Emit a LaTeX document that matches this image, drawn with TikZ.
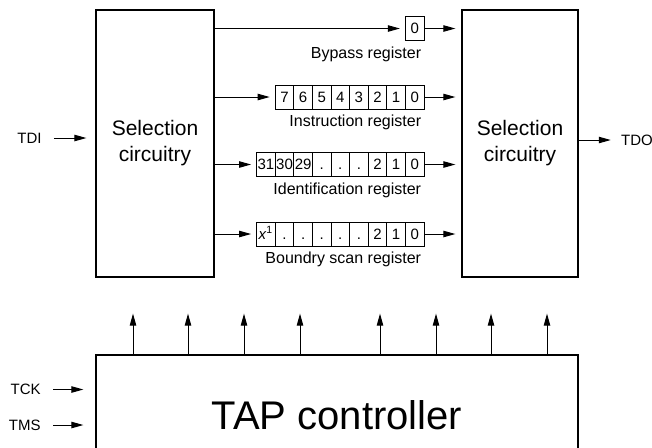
\documentclass[tikz,border=0pt]{standalone}
\usepackage{fontspec}
\setmainfont{Liberation Sans}
\usetikzlibrary{arrows.meta, positioning, calc}

\begin{document}
\begin{tikzpicture}[
    x=0.5pt, y=-0.5pt,
    block/.style={rectangle, draw, line width=0.6pt, inner sep=0pt, align=center, font=\fontsize{10.5}{13}\selectfont},
    cell/.style={rectangle, draw, line width=0.5pt, minimum width=9.3pt, minimum height=12pt, inner sep=0pt, text height=5.4pt, text depth=0pt, font=\fontsize{7.5}{9}\selectfont},
    reglabel/.style={inner sep=0pt, anchor=north east, font=\fontsize{8}{9}\selectfont},
    pin/.style={inner sep=0pt, font=\fontsize{7.5}{9}\selectfont},
    arrow/.style={-{Triangle[length=6pt, width=3.2pt]}, line width=0.5pt}
]
    \clip (0,0) rectangle (652,447);

    % Selection blocks
    \node[block, minimum width=59pt, minimum height=133.5pt] (lsel) at (155,143.5) {Selection\\circuitry};
    \node[block, minimum width=58pt, minimum height=133.5pt] (rsel) at (520,143.5) {Selection\\circuitry};

    % TAP controller (runs past the lower edge)
    \node[block, minimum width=241pt, minimum height=60pt, font=\fontsize{20}{24}\selectfont] (tap) at (337,415) {TAP controller};

    % Registers, cells counted from the right end
    \foreach \v [count=\k from 0] in {0}
        \node[cell] (byp\k) at ({424-18.6*(\k+0.5)},28.5) {\v};
    \foreach \v [count=\k from 0] in {0,1,2,3,4,5,6,7}
        \node[cell] (ins\k) at ({424-18.6*(\k+0.5)},97) {\v};
    \foreach \v [count=\k from 0] in {0,1,2,.,.,.,29,30,31}
        \node[cell] (idc\k) at ({424-18.6*(\k+0.5)},164.5) {\v};
    \foreach \v [count=\k from 0] in {0,1,2,.,.,.,.,.,\textit{x}\textsuperscript{1}}
        \node[cell] (bsc\k) at ({424-18.6*(\k+0.5)},234) {\v};

    % Register names
    \node[reglabel] (bypl) at ([xshift=-1.5pt, yshift=-2.5pt]byp0.south east) {Bypass register};
    \node[reglabel] (insl) at ([xshift=-1.5pt, yshift=-2.5pt]ins0.south east) {Instruction register};
    \node[reglabel] (idcl) at ([xshift=-1.5pt, yshift=-2.5pt]idc0.south east) {Identification register};
    \node[reglabel] (bscl) at ([xshift=-1.5pt, yshift=-2.5pt]bsc0.south east) {Boundry scan register};

    % Paths through the registers
    \foreach \r/\n in {byp/0, ins/7, idc/8, bsc/8} {
        \draw[arrow, shorten >=2.5pt] (lsel.east |- \r\n.west) -- (\r\n.west);
        \draw[arrow, shorten >=3pt] (\r0.east) -- (\r0.east -| rsel.west);
    }

    % Pins
    \node[pin] (tdi) at (29.5,138) {TDI};
    \node[pin] (tdo) at (637,140) {TDO};
    \node[pin, anchor=east] (tck) at (41,389.5) {TCK};
    \node[pin, anchor=east] (tms) at (41,425) {TMS};
    \draw[arrow, shorten <=6pt, shorten >=4.5pt] (tdi.east) -- (tdi.east -| lsel.west);
    \draw[arrow, shorten >=5pt] (tdo.west -| rsel.east) -- (tdo.west);
    \draw[arrow, shorten <=6pt, shorten >=6pt] (tck.east) -- (tck.east -| tap.west);
    \draw[arrow, shorten <=6pt, shorten >=6pt] (tms.east) -- (tms.east -| tap.west);

    % Control lines from the TAP controller
    \foreach \x [count=\i] in {133,188,244,300,380,436,491,547} {
        \coordinate (up\i) at (\x,313.6);
        \draw[arrow] (tap.north -| up\i) -- (up\i);
    }
\end{tikzpicture}
\end{document}
